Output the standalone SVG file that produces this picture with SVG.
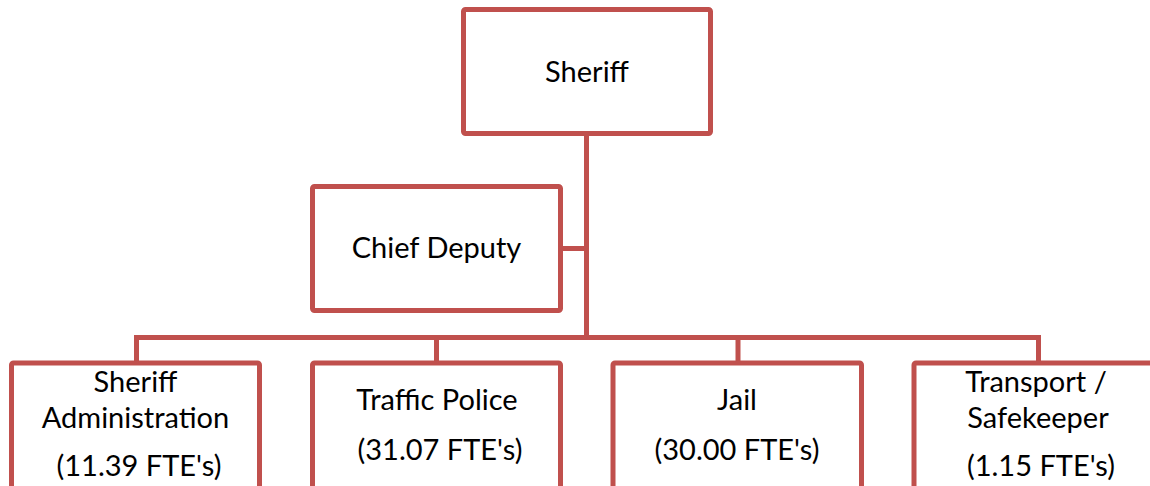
<svg xmlns="http://www.w3.org/2000/svg" width="1150" height="486" viewBox="0 0 1150 486">
  <style>
    .box { fill: #FFFFFF; stroke: #C0504D; stroke-width: 5; }
    .link { fill: none; stroke: #C0504D; stroke-width: 5; stroke-linejoin: miter; }
    .lbl { font-family: Lato, "Open Sans", "Liberation Sans", sans-serif; font-size: 29px; fill: #000000; text-anchor: middle; }
  </style>
  <rect width="1150" height="486" fill="#FFFFFF"/>

  <!-- connectors -->
  <g id="connectors">
    <line class="link" x1="586.5" y1="133.5" x2="586.5" y2="337.5"/>
    <line class="link" x1="560.5" y1="248.5" x2="586.5" y2="248.5"/>
    <polyline class="link" points="136.5,363 136.5,337.5 1038.5,337.5 1038.5,363"/>
    <line class="link" x1="436.5" y1="337.5" x2="436.5" y2="363"/>
    <line class="link" x1="738" y1="337.5" x2="738" y2="363"/>
  </g>

  <g id="sheriff">
    <rect class="box" x="463.5" y="9.5" width="247" height="124" rx="2"/>
    <text class="lbl" x="587" y="82">Sheriff</text>
  </g>

  <g id="chief-deputy">
    <rect class="box" x="312.5" y="186.5" width="248" height="124" rx="2"/>
    <text class="lbl" x="436.5" y="258">Chief Deputy</text>
  </g>

  <g id="sheriff-administration">
    <rect class="box" x="11.5" y="363" width="248" height="140" rx="2"/>
    <text class="lbl" x="135.5" y="392">Sheriff</text>
    <text class="lbl" x="135.5" y="428">Administration</text>
    <text class="lbl" x="139" y="476">(11.39 FTE's)</text>
  </g>

  <g id="traffic-police">
    <rect class="box" x="312.5" y="363" width="248" height="140" rx="2"/>
    <text class="lbl" x="437" y="410">Traffic Police</text>
    <text class="lbl" x="440" y="460">(31.07 FTE's)</text>
  </g>

  <g id="jail">
    <rect class="box" x="613" y="363" width="248.5" height="140" rx="2"/>
    <text class="lbl" x="737" y="410">Jail</text>
    <text class="lbl" x="737" y="460">(30.00 FTE's)</text>
  </g>

  <g id="transport-safekeeper">
    <rect class="box" x="914" y="363" width="248" height="140" rx="2"/>
    <text class="lbl" x="1036" y="392">Transport /</text>
    <text class="lbl" x="1038" y="428">Safekeeper</text>
    <text class="lbl" x="1041" y="476">(1.15 FTE's)</text>
  </g>
</svg>
